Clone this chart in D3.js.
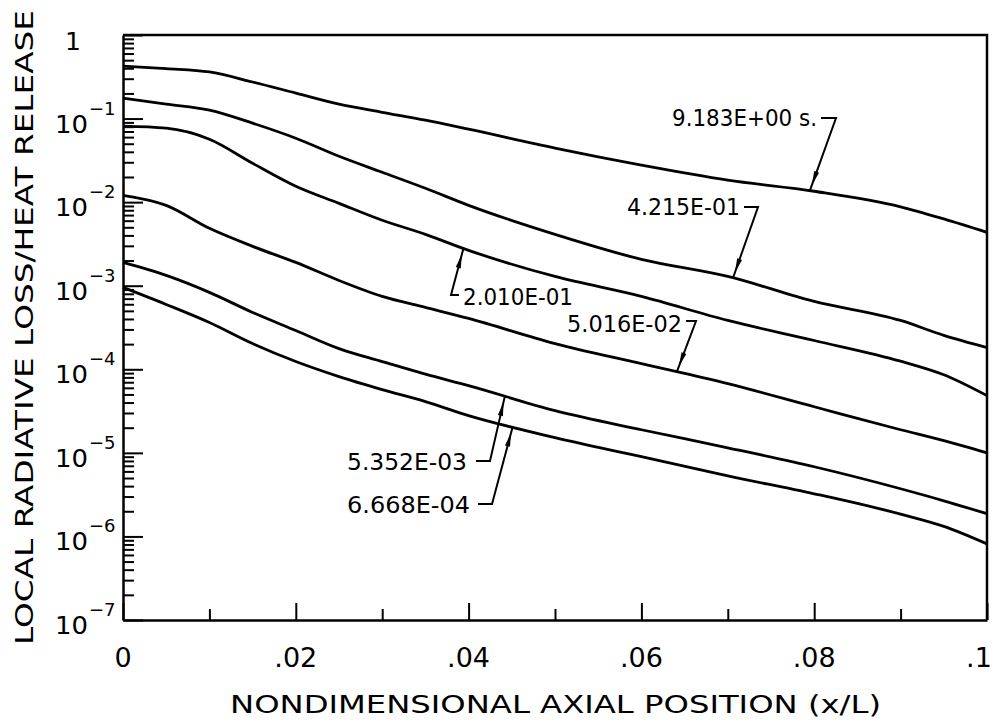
<!DOCTYPE html>
<html>
<head>
<meta charset="utf-8">
<script src="https://cdn.jsdelivr.net/npm/d3@7"></script>
<style>
  html, body { margin: 0; padding: 0; background: #fff; }
  svg { display: block; }
  text { font-family: "DejaVu Sans", "Liberation Sans", sans-serif; fill: #000; }
</style>
</head>
<body>
<svg id="chart" width="1000" height="726"></svg>
<script>
// ---------- data ----------
const xValues = [0, 0.005, 0.01, 0.015, 0.02, 0.025, 0.03, 0.035, 0.04, 0.05, 0.06, 0.07, 0.08, 0.09, 0.095, 0.1];

const seriesLabels = ["9.183E+00 s.", "4.215E-01", "2.010E-01", "5.016E-02", "5.352E-03", "6.668E-04"];

const series1 = [0.425, 0.396, 0.361, 0.274, 0.202, 0.149, 0.119, 0.0957, 0.0746, 0.0443, 0.0277, 0.0183, 0.0135, 0.00880, 0.00630, 0.00435];
const series2 = [0.176, 0.149, 0.126, 0.0881, 0.0582, 0.0354, 0.0228, 0.01466, 0.00916, 0.00412, 0.00207, 0.00129, 0.000649, 0.000384, 0.000255, 0.000182];
const series3 = [0.0811, 0.0767, 0.0566, 0.0292, 0.0155, 0.00968, 0.00607, 0.00412, 0.00265, 0.00129, 0.000745, 0.000384, 0.000221, 0.000125, 0.0000860, 0.0000484];
const series4 = [0.01208, 0.00916, 0.00486, 0.00296, 0.00190, 0.001156, 0.000745, 0.000550, 0.000406, 0.000203, 0.0001169, 0.0000673, 0.0000356, 0.0000189, 0.0000140, 0.0000100];
const series5 = [0.00190, 0.001327, 0.000832, 0.000479, 0.000291, 0.000177, 0.0001236, 0.0000875, 0.0000638, 0.0000320, 0.0000189, 0.0000115, 0.00000682, 0.00000372, 0.00000267, 0.00000187];
const series6 = [0.000955, 0.000597, 0.000363, 0.000203, 0.0001239, 0.0000818, 0.0000571, 0.0000410, 0.0000279, 0.0000152, 0.0000090, 0.0000053, 0.00000324, 0.00000185, 0.00000132, 0.000000815];

const xTicks = [0, 0.02, 0.04, 0.06, 0.08, 0.1];
const xTickLabels = ["0", ".02", ".04", ".06", ".08", ".1"];
const xMinorTicks = [0.01, 0.03, 0.05, 0.07, 0.09];
const yTickExponents = [0, -1, -2, -3, -4, -5, -6, -7];

const xTitle = "NONDIMENSIONAL AXIAL POSITION (x/L)";
const yTitle = "LOCAL RADIATIVE LOSS/HEAT RELEASE";

// where each label's arrow touches its curve (x in data units)
const arrowX = [0.0795, 0.0706, 0.0394, 0.0641, 0.0442, 0.0451];

// ---------- layout ----------
const allSeries = [series1, series2, series3, series4, series5, series6];
const L = 123, R = 987, T = 35, B = 620;

const svg = d3.select("#chart");
const x = d3.scaleLinear().domain([0, 0.1]).range([L, R]);
const y = d3.scaleLog().domain([1e-7, 1]).range([B, T]);

// frame top/right
svg.append("path")
  .attr("d", `M${L},${T}H${R}V${B}`)
  .attr("fill", "none").attr("stroke", "#000").attr("stroke-width", 2.5);

// y axis (ticks pointing inward)
const yMajor = yTickExponents.map(e => Math.pow(10, e));
const yMinor = [];
yTickExponents.slice(1).forEach(e => { for (let k = 2; k <= 9; k++) yMinor.push(k * Math.pow(10, e)); });

svg.append("g").attr("transform", `translate(${L},0)`)
  .call(d3.axisRight(y).tickValues(yMajor).tickSize(20).tickSizeOuter(0).tickFormat(""));
svg.append("g").attr("transform", `translate(${L},0)`)
  .call(d3.axisRight(y).tickValues(yMinor).tickSize(11).tickSizeOuter(0).tickFormat(""))
  .select(".domain").remove();

// x axis (ticks pointing inward)
svg.append("g").attr("transform", `translate(0,${B})`)
  .call(d3.axisTop(x).tickValues(xTicks).tickSize(17).tickSizeOuter(0).tickFormat(""));
svg.append("g").attr("transform", `translate(0,${B})`)
  .call(d3.axisTop(x).tickValues(xMinorTicks).tickSize(11).tickSizeOuter(0).tickFormat(""))
  .select(".domain").remove();

svg.selectAll(".domain").attr("stroke", "#000").attr("stroke-width", 2.5);
svg.selectAll(".tick line").attr("stroke", "#000").attr("stroke-width", 2);

// y tick labels
yTickExponents.forEach(e => {
  const ty = y(Math.pow(10, e));
  if (e === 0) {
    svg.append("text").attr("x", 73).attr("y", ty + 15)
      .attr("text-anchor", "middle").attr("font-size", 25).text("1");
  } else {
    svg.append("text").attr("x", 55).attr("y", ty + 14)
      .attr("font-size", 25).attr("textLength", 33).attr("lengthAdjust", "spacingAndGlyphs").text("10");
    svg.append("text").attr("x", 89).attr("y", ty - 4)
      .attr("font-size", 18).text("\u2212" + (-e));
  }
});

// x tick labels
xTicks.forEach((v, i) => {
  const off = i === xTicks.length - 1 ? -8 : 0;
  svg.append("text").attr("x", x(v) + off).attr("y", 667)
    .attr("text-anchor", "middle").attr("font-size", 27).text(xTickLabels[i]);
});

// axis titles
svg.append("text").attr("x", 230).attr("y", 713)
  .attr("font-size", 24).attr("textLength", 651).attr("lengthAdjust", "spacingAndGlyphs").text(xTitle);
svg.append("text").attr("transform", "translate(33,645) rotate(-90)")
  .attr("font-size", 25).attr("textLength", 635).attr("lengthAdjust", "spacingAndGlyphs").text(yTitle);

// curves
const line = d3.line().x(d => x(d[0])).y(d => y(d[1])).curve(d3.curveMonotoneX);
allSeries.forEach(s => {
  svg.append("path").datum(xValues.map((xv, i) => [xv, s[i]]))
    .attr("d", line).attr("fill", "none").attr("stroke", "#000").attr("stroke-width", 2.8)
    .attr("stroke-linejoin", "round");
});

// annotation layout (pixels): text position, corner of leader, end of short horizontal
const annLayout = [
  { tx: 672, ty: 126, tw: 145, corner: [836, 118], hEnd: [821, 118] },
  { tx: 627, ty: 215, tw: 113, corner: [758, 207], hEnd: [744, 207] },
  { tx: 463, ty: 305, tw: 110, corner: [451, 295], hEnd: [459, 295] },
  { tx: 567, ty: 332, tw: 115, corner: [696, 321], hEnd: [686, 321] },
  { tx: 347, ty: 470, tw: 120, corner: [490, 461], hEnd: [476, 461] },
  { tx: 347, ty: 513, tw: 123, corner: [492, 504], hEnd: [478, 504] }
];

function valueAt(s, xv) {
  const i = Math.max(1, d3.bisectLeft(xValues, xv));
  const x0 = xValues[i - 1], x1 = xValues[i];
  const t = (xv - x0) / (x1 - x0);
  return Math.pow(10, Math.log10(s[i - 1]) * (1 - t) + Math.log10(s[i]) * t);
}

annLayout.forEach((a, i) => {
  const tipX = x(arrowX[i]);
  const tipY = y(valueAt(allSeries[i], arrowX[i]));
  svg.append("text").attr("x", a.tx).attr("y", a.ty).attr("font-size", 23)
    .attr("textLength", a.tw).attr("lengthAdjust", "spacingAndGlyphs").text(seriesLabels[i]);
  svg.append("path")
    .attr("d", `M${a.hEnd[0]},${a.hEnd[1]}L${a.corner[0]},${a.corner[1]}L${tipX},${tipY}`)
    .attr("fill", "none").attr("stroke", "#000").attr("stroke-width", 2);
  // arrowhead along the leader, a little before the tip
  const dx = tipX - a.corner[0], dy = tipY - a.corner[1];
  const len = Math.hypot(dx, dy), ux = dx / len, uy = dy / len;
  const px = tipX - ux * 6, py = tipY - uy * 6;
  const bx = px - ux * 14, by = py - uy * 14;
  const w = 2.6;
  svg.append("path")
    .attr("d", `M${px},${py}L${bx - uy * w},${by + ux * w}L${bx + uy * w},${by - ux * w}Z`)
    .attr("fill", "#000");
});
</script>
</body>
</html>
